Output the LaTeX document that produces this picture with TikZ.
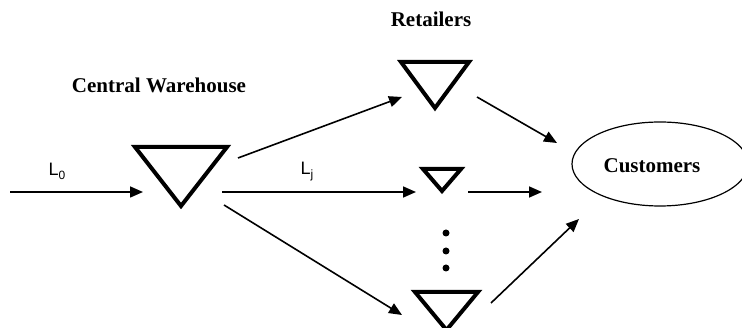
\documentclass[tikz,border=0pt]{standalone}
\usepackage{fontspec}
\setmainfont{Liberation Serif}
\setsansfont{Liberation Sans}
\usetikzlibrary{arrows.meta,shapes.geometric}
\newcommand{\lowsub}[1]{\raisebox{-0.22em}{\fontsize{12}{14}\selectfont #1}}
\begin{document}
\begin{tikzpicture}[x=1pt,y=-1pt,
  tribox/.style={inner sep=0pt, outer sep=0pt, draw=none},
  tri/.style={line width=4pt, line join=miter},
  arr/.style={line width=1.6pt, -{Triangle[length=13pt,width=11pt]}},
  title/.style={font=\fontsize{21}{25}\selectfont\bfseries, inner sep=0pt, anchor=base},
  lab/.style={font=\fontsize{18}{21}\selectfont\sffamily, inner sep=0pt, anchor=base},
  dot/.style={circle, fill=black, inner sep=0pt, minimum size=7pt}]
\useasboundingbox (0,0) rectangle (742,328);
\fill[white] (0,0) rectangle (742,328);
% triangles
\node[tribox, minimum width=92pt, minimum height=59pt] (cw) at (181,176.5) {};
\node[tribox, minimum width=68pt, minimum height=46pt] (r1) at (435,85) {};
\node[tribox, minimum width=38pt, minimum height=22pt] (r2) at (442,180) {};
\node[tribox, minimum width=63pt, minimum height=38pt] (r3) at (446.5,311) {};
\foreach \t in {cw,r1,r2,r3}
  \draw[tri] (\t.north west) -- (\t.north east) -- (\t.south) -- cycle;
% customers
\node[draw, ellipse, line width=1.2pt, minimum width=176pt, minimum height=84pt, inner sep=0pt] (cu) at (660,164) {};
\node[title] (cut) at (652,172.5) {Customers};
% titles
\node[title] (rt) at (431,27) {Retailers};
\node[title] (cwt) at (159,93) {Central Warehouse};
% labels
\node[lab] (l0) at (57,176) {L\lowsub{0}};
\node[lab] (lj) at (307,175) {L\lowsub{j}};
% dots
\node[dot] (d1) at (446,233) {};
\node[dot] (d2) at (446,251) {};
\node[dot] (d3) at (446,268) {};
% connector endpoints
\coordinate (src) at (10,192);
\coordinate (cwin) at (143,192);
\coordinate (a1s) at (238,158); \coordinate (a1e) at (402,97);
\coordinate (a2s) at (222,192); \coordinate (a2e) at (416,192);
\coordinate (a3s) at (224,205); \coordinate (a3e) at (402,315);
\coordinate (b1s) at (477,97);  \coordinate (b1e) at (557,143);
\coordinate (b2s) at (468,192); \coordinate (b2e) at (542,192);
\coordinate (b3s) at (491,303); \coordinate (b3e) at (579,219);
\draw[arr] (src) -- (cwin);
\draw[arr] (a1s) -- (a1e);
\draw[arr] (a2s) -- (a2e);
\draw[arr] (a3s) -- (a3e);
\draw[arr] (b1s) -- (b1e);
\draw[arr] (b2s) -- (b2e);
\draw[arr] (b3s) -- (b3e);
\end{tikzpicture}
\end{document}
